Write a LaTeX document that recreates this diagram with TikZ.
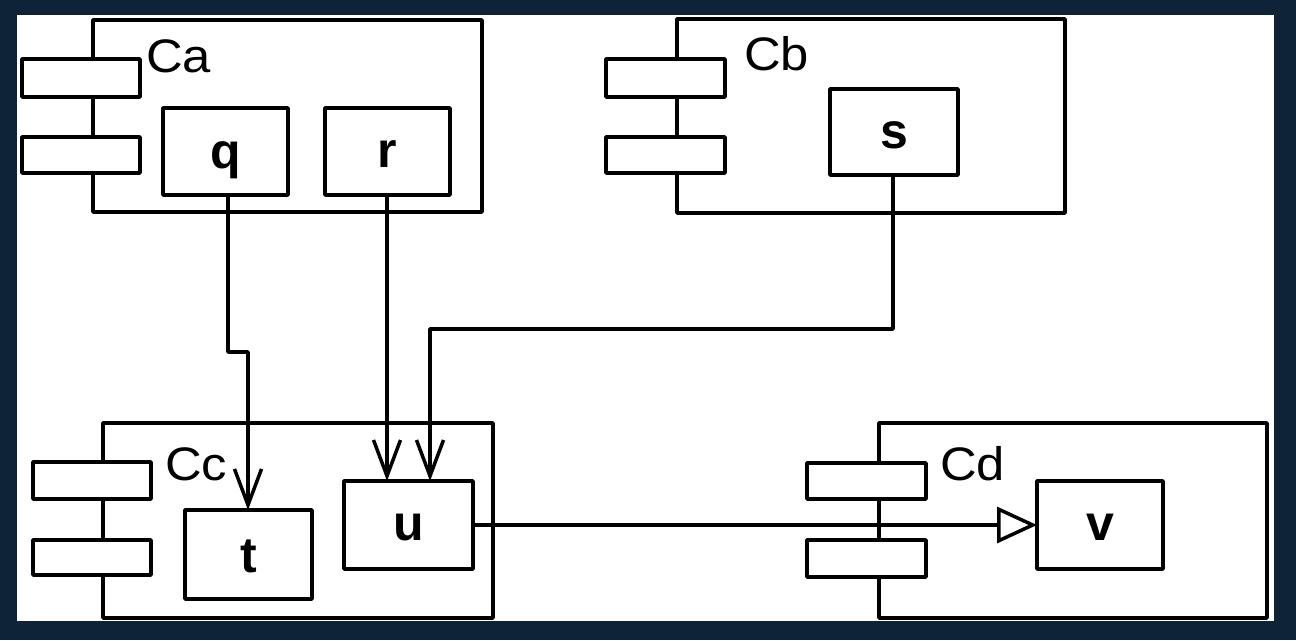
\documentclass[tikz,border=0pt]{standalone}
\usepackage{fontspec}
\setmainfont{Liberation Sans}
\usetikzlibrary{arrows.meta}
\definecolor{navybg}{RGB}{14,35,55}
\newcommand{\wideTxt}[1]{\scalebox{1.08}[1]{#1}}
\tikzset{
  ln/.style={line width=3.5pt, draw=black, line join=round},
  comp/.style={ln, fill=white, inner sep=0pt, outer sep=0pt, anchor=north west, rectangle},
  port/.style={ln, fill=white, inner sep=0pt, outer sep=0pt, anchor=north west, rectangle},
  part/.style={ln, fill=white, inner sep=0pt, outer sep=0pt, anchor=north west, rectangle},
  plabel/.style={font=\fontsize{50}{50}\selectfont\bfseries, inner sep=0pt, anchor=base},
  clabel/.style={font=\fontsize{47}{47}\selectfont, inner sep=0pt, anchor=base west},
  conn/.style={ln, -{Straight Barb[length=36pt,width=27pt,line width=3.5pt]}},
  realize/.style={ln, -{Triangle[open,length=40pt,width=36pt,line width=3.5pt]}}
}
\begin{document}
\begin{tikzpicture}[x=1pt,y=-1pt]
\useasboundingbox (0,0) rectangle (1296,640);
\fill[navybg] (0,0) rectangle (1296,640);
\fill[white] (17,15) rectangle (1274,621);

% Ca
\node[comp, minimum width=389pt, minimum height=192pt] (Ca) at (93,20) {};
\node[port, minimum width=118pt, minimum height=38pt] (Ca1) at (22,59) {};
\node[port, minimum width=118pt, minimum height=36pt] (Ca2) at (22,137) {};
\node[clabel] (CaL) at (146,72) {\wideTxt{Ca}};
\node[part, minimum width=125pt, minimum height=87pt] (q) at (163,108) {};
\node[plabel] (qL) at ([yshift=-16.5pt]q.center) {q};
\node[part, minimum width=125pt, minimum height=87pt] (r) at (325,108) {};
\node[plabel] (rL) at ([yshift=-15.5pt]r.center) {r};

% Cb
\node[comp, minimum width=388pt, minimum height=194pt] (Cb) at (677,19) {};
\node[port, minimum width=119pt, minimum height=38pt] (Cb1) at (606,59) {};
\node[port, minimum width=119pt, minimum height=36pt] (Cb2) at (606,137) {};
\node[clabel] (CbL) at (744,70) {\wideTxt{Cb}};
\node[part, minimum width=128pt, minimum height=86pt] (s) at (830,89) {};
\node[plabel] (sL) at ([yshift=-16pt]s.center) {s};

% Cc
\node[comp, minimum width=390pt, minimum height=195pt] (Cc) at (103,423) {};
\node[port, minimum width=118pt, minimum height=37pt] (Cc1) at (33,462) {};
\node[port, minimum width=118pt, minimum height=35pt] (Cc2) at (33,540) {};
\node[clabel] (CcL) at (165,480) {\wideTxt{Cc}};
\node[part, minimum width=127pt, minimum height=89pt] (t) at (185,510) {};
\node[plabel] (tL) at ([yshift=-17.5pt]t.center) {t};
\node[part, minimum width=129pt, minimum height=88pt] (u) at (344,481) {};
\node[plabel] (uL) at ([yshift=-15pt]u.center) {u};

% Cd
\node[comp, minimum width=388pt, minimum height=195pt] (Cd) at (879,423) {};
\node[port, minimum width=119pt, minimum height=36pt] (Cd1) at (807,463) {};
\node[port, minimum width=119pt, minimum height=37pt] (Cd2) at (807,540) {};
\node[clabel] (CdL) at (940,480) {\wideTxt{Cd}};
\node[part, minimum width=126pt, minimum height=88pt] (v) at (1037,481) {};
\node[plabel] (vL) at ([yshift=-15pt]v.center) {v};

% connectors
\coordinate (qa) at (228,352);
\coordinate (qb) at (248,352);
\coordinate (rx) at (387,300);
\coordinate (sa) at (893,329);
\coordinate (sb) at (430,329);
\draw[conn] (q.south -| qa) -- (qa) -- (qb) -- (qb |- t.north);
\draw[conn] (r.south -| rx) -- (rx |- u.north);
\draw[conn] (s.south -| sa) -- (sa) -- (sb) -- (sb |- u.north);
\draw[realize] (u.east) -- (v.west);
\end{tikzpicture}
\end{document}
